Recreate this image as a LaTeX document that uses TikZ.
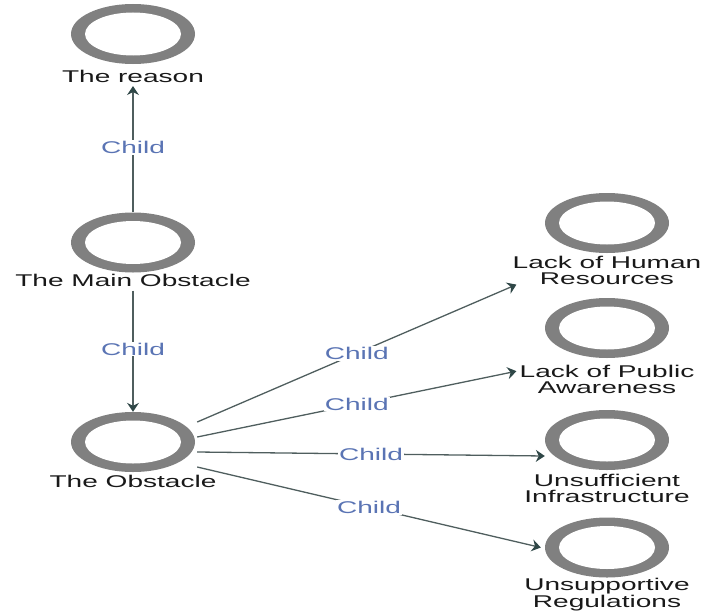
\documentclass[tikz,border=0pt]{standalone}
\usepackage{fontspec}
\setmainfont{Liberation Sans}[FakeStretch=1.65]
\usetikzlibrary{positioning,arrows.meta,shapes.geometric}
\definecolor{ringgray}{HTML}{808080}
\definecolor{edgegray}{HTML}{4F5E5E}
\definecolor{tipgray}{HTML}{2F4747}
\definecolor{childblue}{HTML}{5A74B4}

\begin{document}
\begin{tikzpicture}[x=1pt,y=-1pt,font=\fontsize{17}{15.5}\selectfont,
    ringnode/.style={ellipse, minimum width=124pt, minimum height=60pt, inner sep=0pt, fill=ringgray,
      path picture={\fill[white] (path picture bounding box.center) ellipse [x radius=48pt, y radius=21.5pt];}},
    lbl/.style={inner sep=0pt, align=center, text=black!90},
    arr/.style={edgegray, line width=1.3pt, -{Stealth[length=9pt,width=12pt,inset=3pt,color=tipgray]}},
    childlbl/.style={midway, fill=white, inner sep=1pt, text=childblue}]
  \useasboundingbox (0,0) rectangle (711,610);
  % left column
  \node[ringnode] (reason) at (133,34) {};
  \node[lbl, below=6pt of reason] (reasonlbl) {The reason};
  \node[ringnode] (main) at (133,242.5) {};
  \node[lbl, below=1pt of main] (mainlbl) {The Main Obstacle};
  \node[ringnode] (obstacle) at (133,442) {};
  \node[lbl, below=3pt of obstacle] (obstaclelbl) {The Obstacle};
  % right column
  \node[ringnode] (human) at (607,223) {};
  \node[lbl, below=3pt of human] (humanlbl) {Lack of Human\\Resources};
  \node[ringnode] (public) at (607,328) {};
  \node[lbl, below=7pt of public] (publiclbl) {Lack of Public\\Awareness};
  \node[ringnode] (infra) at (607,440) {};
  \node[lbl, below=4pt of infra] (infralbl) {Unsufficient\\Infrastructure};
  \node[ringnode] (regul) at (607,547.5) {};
  \node[lbl, below=0pt of regul] (regullbl) {Unsupportive\\Regulations};
  % edges
  \draw[arr, shorten >=3pt] (main) -- (reasonlbl) node[childlbl] {Child};
  \draw[arr, shorten <=4pt] (mainlbl) -- (obstacle) node[childlbl] {Child};
  \draw[arr] ([xshift=2pt,yshift=20pt]obstacle.east) -- ([xshift=4pt]humanlbl.south west) node[childlbl] {Child};
  \draw[arr] ([xshift=2pt,yshift=5pt]obstacle.east) -- ([xshift=-3pt,yshift=-6pt]publiclbl.north west) node[childlbl] {Child};
  \draw[arr] ([xshift=2pt,yshift=-10pt]obstacle.east) -- ([yshift=-16pt]infra.west) node[childlbl] {Child};
  \draw[arr] ([xshift=2pt,yshift=-25pt]obstacle.east) -- ([xshift=-4pt]regul.west) node[childlbl] {Child};
\end{tikzpicture}
\end{document}
